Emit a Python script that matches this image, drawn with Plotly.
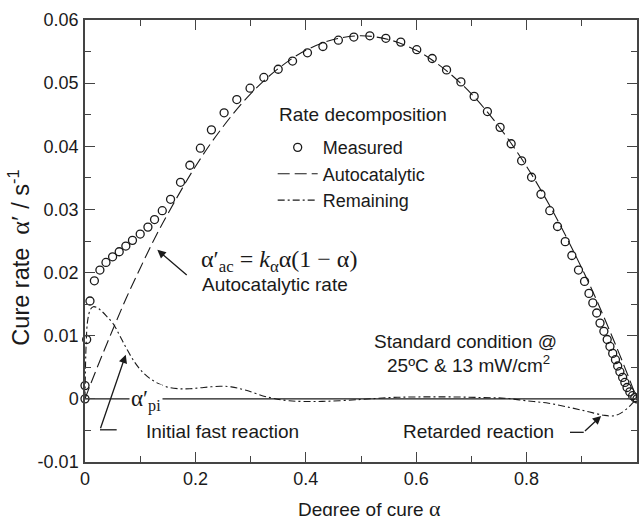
import plotly.graph_objects as go

# Measured cure rate (open circles)
measured_alpha = [0, 0, 0.003, 0.009, 0.017, 0.027, 0.038, 0.050, 0.062, 0.074, 0.086, 0.100,
                  0.114, 0.126, 0.140, 0.155, 0.173, 0.190, 0.209, 0.229, 0.252, 0.275, 0.299,
                  0.324, 0.350, 0.376, 0.403, 0.431, 0.459, 0.487, 0.516, 0.545, 0.572, 0.601,
                  0.629, 0.655, 0.681, 0.705, 0.729, 0.752, 0.772, 0.791, 0.809, 0.826, 0.842,
                  0.856, 0.870, 0.882, 0.894, 0.905, 0.913, 0.920, 0.927, 0.933, 0.940, 0.946,
                  0.951, 0.956, 0.961, 0.965, 0.969, 0.974, 0.978, 0.982, 0.987, 0.992, 0.996, 1.0]
measured_rate = [0, 0.0021, 0.0094, 0.0155, 0.0187, 0.0204, 0.0216, 0.0225, 0.0233, 0.0242, 0.0251,
                 0.0261, 0.0272, 0.0284, 0.0298, 0.0316, 0.0343, 0.0370, 0.0397, 0.0426, 0.0453,
                 0.0474, 0.0492, 0.0509, 0.0522, 0.0535, 0.0548, 0.0558, 0.0568, 0.0573, 0.0575,
                 0.0571, 0.0565, 0.0553, 0.0539, 0.0521, 0.0502, 0.0479, 0.0455, 0.0430, 0.0404,
                 0.0377, 0.0351, 0.0324, 0.0298, 0.0273, 0.0249, 0.0227, 0.0204, 0.0186, 0.0167,
                 0.0152, 0.0136, 0.0120, 0.0107, 0.0094, 0.0083, 0.0072, 0.0062, 0.0052, 0.0043,
                 0.0034, 0.0026, 0.0018, 0.0011, 0.0005, 0.0002, 0.0]

# Autocatalytic contribution (dashed)
auto_alpha = [0, 0.01, 0.025, 0.05, 0.075, 0.1, 0.125, 0.15, 0.2, 0.25, 0.3, 0.35, 0.4, 0.45,
              0.5, 0.55, 0.6, 0.65, 0.7, 0.75, 0.8, 0.85, 0.9, 0.925, 0.95, 0.975, 1.0]
auto_rate = [0, 0.0023, 0.0056, 0.0109, 0.0160, 0.0207, 0.0252, 0.0293, 0.0368, 0.0431, 0.0483,
             0.0523, 0.0552, 0.0569, 0.0575, 0.0569, 0.0552, 0.0523, 0.0483, 0.0431, 0.0368,
             0.0293, 0.0207, 0.0160, 0.0109, 0.0056, 0.0]

# Remaining contribution (dash-dot)
rem_alpha = [0, 0.002, 0.005, 0.01, 0.015, 0.021, 0.03, 0.04, 0.051, 0.063, 0.075, 0.09, 0.106,
             0.125, 0.148, 0.17, 0.19, 0.215, 0.245, 0.265, 0.29, 0.33, 0.37, 0.43, 0.5, 0.55,
             0.6, 0.67, 0.72, 0.76, 0.8, 0.84, 0.88, 0.91, 0.94, 0.957, 0.97, 0.985, 0.995, 1.0]
rem_rate = [0, 0.0085, 0.0125, 0.0142, 0.0146, 0.0145, 0.0139, 0.0130, 0.0119, 0.0100, 0.0080,
            0.0058, 0.0041, 0.0028, 0.0019, 0.0016, 0.0016, 0.0018, 0.0020, 0.0019, 0.0014,
            0.0003, -0.0003, -0.0004, -0.0001, 0.0002, 0.0003, 0.0003, 0.0002, 0.0001, -0.0003,
            -0.0007, -0.0014, -0.0020, -0.0026, -0.0027, -0.0023, -0.0013, -0.0004, 0.0]

x_tickvals = [0, 0.2, 0.4, 0.6, 0.8, 1.0]
x_ticktext = ["0", "0.2", "0.4", "0.6", "0.8", "1"]
y_tickvals = [-0.01, 0, 0.01, 0.02, 0.03, 0.04, 0.05, 0.06]
y_ticktext = ["-0.01", "0", "0.01", "0.02", "0.03", "0.04", "0.05", "0.06"]

SANS = "Liberation Sans, Arial, sans-serif"
SERIF = "Liberation Serif, Times New Roman, serif"
INK = "#1a1a1a"
AX = "#444"
TXT = 19

fig = go.Figure()

fig.add_trace(go.Scatter(
    x=measured_alpha, y=measured_rate, mode="markers", name="Measured",
    marker=dict(symbol="circle-open", size=8, color=INK, line=dict(width=1.3, color=INK)),
    cliponaxis=False,
))
fig.add_trace(go.Scatter(
    x=auto_alpha, y=auto_rate, mode="lines", name="Autocatalytic",
    line=dict(color=INK, width=1.1, dash="12px,5px", shape="spline"),
))
fig.add_trace(go.Scatter(
    x=rem_alpha, y=rem_rate, mode="lines", name="Remaining",
    line=dict(color=INK, width=1.1, dash="7px,3px,2px,3px", shape="spline"),
))

# zero reference line
fig.add_shape(type="line", x0=0, x1=1, y0=0, y1=0, xref="x", yref="y",
              line=dict(color=INK, width=1.2), layer="below")


def label(x, y, text, anchor="left", family=SANS, size=TXT, **kw):
    return dict(x=x, y=y, xref="x", yref="y", xanchor=anchor, yanchor="middle",
                text=text, showarrow=False, font=dict(family=family, size=size, color=INK), **kw)


def arrow(x, y, ax, ay):
    return dict(x=x, y=y, ax=ax, ay=ay, xref="x", yref="y", axref="x", ayref="y", text="",
                showarrow=True, arrowhead=2, arrowsize=1.3, arrowwidth=1.3, arrowcolor=INK)


ann = [
    # axis titles
    dict(x=0.516, y=-0.106, xref="paper", yref="paper", xanchor="center", yanchor="middle",
         showarrow=False,
         text="Degree of cure <span style=\"font-family:Liberation Serif;font-size:22px\">α</span>",
         font=dict(family=SANS, size=19, color=INK)),
    dict(x=-0.118, y=0.462, xref="paper", yref="paper", xanchor="center", yanchor="middle",
         showarrow=False, textangle=-90,
         text="Cure rate  <span style=\"font-family:Liberation Serif;font-size:26px\">α′</span> / s<sup>-1</sup>",
         font=dict(family=SANS, size=23.5, color=INK)),
    # legend heading
    label(0.504, 0.0451, "Rate decomposition", anchor="center"),
    # autocatalytic rate expression
    label(0.207, 0.0219, "α′<sub>ac</sub> = <i>k</i><sub>α</sub>α(1 − α)", family=SERIF, size=24),
    label(0.208, 0.0181, "Autocatalytic rate"),
    arrow(0.131, 0.0236, 0.187, 0.0194),
    # initial fast reaction
    arrow(0.0738, 0.0070, 0.0272, -0.0049),
    label(0.107, -0.0052, "Initial fast reaction"),
    label(0.111, -0.0003, "α′<sub>pi</sub>", anchor="center", family=SERIF, size=23,
          bgcolor="white", borderpad=1),
    # retarded reaction
    arrow(0.935, -0.0027, 0.903, -0.0053),
    label(0.573, -0.0052, "Retarded reaction"),
    # operating condition
    label(0.689, 0.0091, "Standard condition @", anchor="center"),
    label(0.694, 0.0056, "25ºC & 13 mW/cm<sup>2</sup>", anchor="center"),
]

fig.update_layout(
    annotations=ann,
    shapes=list(fig.layout.shapes) + [
        dict(type="line", x0=0.0272, x1=0.0574, y0=-0.0049, y1=-0.0049, xref="x", yref="y",
             line=dict(color=INK, width=1.3)),
        dict(type="line", x0=0.8786, x1=0.9035, y0=-0.0053, y1=-0.0053, xref="x", yref="y",
             line=dict(color=INK, width=1.3)),
    ],
    width=639, height=516,
    margin=dict(l=85, r=2, t=20, b=54, autoexpand=False),
    paper_bgcolor="white", plot_bgcolor="white",
    font=dict(family=SANS, size=TXT, color=INK),
    showlegend=True,
    legend=dict(
        x=0.34, y=0.753, xanchor="left", yanchor="top",
        bgcolor="rgba(0,0,0,0)", borderwidth=0,
        font=dict(family=SANS, size=18, color=INK),
        itemwidth=40,
    ),
    xaxis=dict(
        range=[0, 1], tickvals=x_tickvals, ticktext=x_ticktext,
        ticks="inside", ticklen=10, tickwidth=1.3, tickcolor=AX,
        showline=True, linecolor=AX, linewidth=1.5, mirror="ticks",
        showgrid=False, zeroline=False, automargin=False,
        minor=dict(dtick=0.1, ticks="inside", ticklen=6, tickwidth=1.3, tickcolor=AX,
                   showgrid=False),
        tickfont=dict(family=SANS, size=18, color=INK),
    ),
    yaxis=dict(
        range=[-0.01, 0.06], tickvals=y_tickvals, ticktext=y_ticktext,
        ticks="inside", ticklen=10, tickwidth=1.3, tickcolor=AX,
        showline=True, linecolor=AX, linewidth=1.5, mirror="ticks",
        showgrid=False, zeroline=False, automargin=False, ticklabelstandoff=1,
        minor=dict(dtick=0.005, ticks="inside", ticklen=6, tickwidth=1.3, tickcolor=AX,
                   showgrid=False),
        tickfont=dict(family=SANS, size=18, color=INK),
    ),
)

fig.write_html("out.html")
